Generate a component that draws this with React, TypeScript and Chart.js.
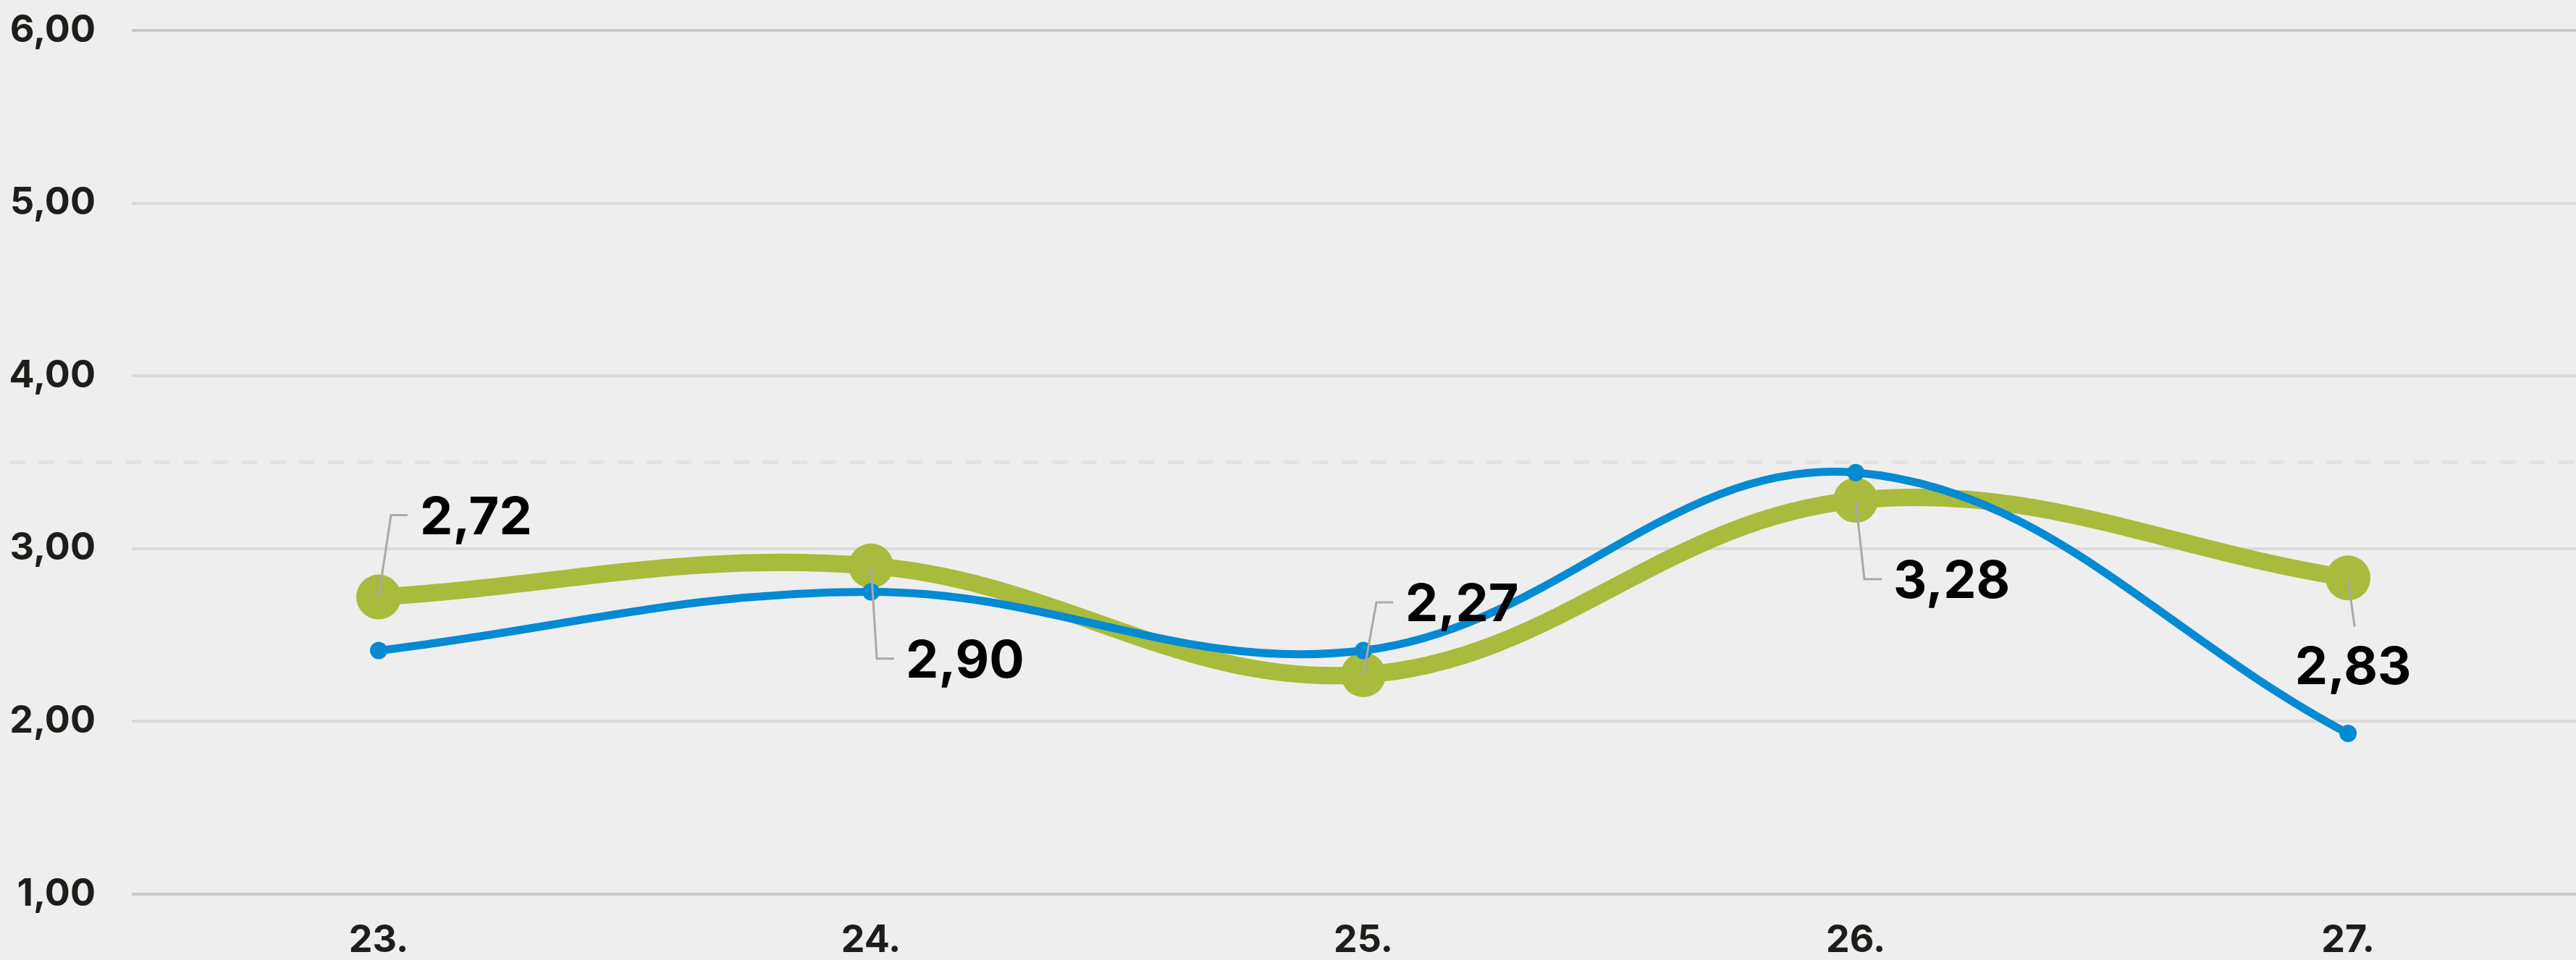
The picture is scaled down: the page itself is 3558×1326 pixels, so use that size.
import React, { useEffect, useRef } from "react";
import { Chart, registerables } from "chart.js";

Chart.register(...registerables);

// ---- data ----
const categories = ["23.", "24.", "25.", "26.", "27."];
const greenValues = [2.72, 2.9, 2.27, 3.28, 2.83];
const blueValues = [2.41, 2.75, 2.41, 3.44, 1.93];
const yTickValues = [1, 2, 3, 4, 5, 6];
const referenceValue = 3.5;

// ---- label layout (pixel offsets relative to each green point) ----
const LABEL_LAYOUT = [
  { tx: 57, ty: -113, ex: 17, ey: -113, hx: 40, align: "left" },
  { tx: 48, ty: 128, ex: 8, ey: 128, hx: 32, align: "left" },
  { tx: 58, ty: -100, ex: 18, ey: -100, hx: 41, align: "left" },
  { tx: 52, ty: 109, ex: 12, ey: 109, hx: 36, align: "left" },
  { tx: 7, ty: 121, ex: 9, ey: 67, hx: null, align: "center" },
];

const GREEN = "#a8bb3c";
const BLUE = "#028ad2";
const FONT = "Inter";
// canvas is a bit wider than the window: Chart.js reserves ~31px on the right
const CANVAS_W = 3589;
const CANVAS_H = 1326;

const fmt = (v: number) => v.toFixed(2).replace(".", ",");

const refLinePlugin = {
  id: "refLine",
  beforeDatasetsDraw(chart: any) {
    const y = chart.scales.y.getPixelForValue(referenceValue);
    const ctx = chart.ctx;
    ctx.save();
    ctx.strokeStyle = "#e3e3e3";
    ctx.lineWidth = 5;
    ctx.setLineDash([22, 18]);
    ctx.beginPath();
    ctx.moveTo(13, y);
    ctx.lineTo(chart.width, y);
    ctx.stroke();
    ctx.restore();
  },
};

const labelPlugin = {
  id: "greenLabels",
  afterDatasetsDraw(chart: any) {
    const ctx = chart.ctx;
    const meta = chart.getDatasetMeta(1);
    ctx.save();
    meta.data.forEach((pt: any, i: number) => {
      const L = LABEL_LAYOUT[i];
      if (!L) return;
      const { x, y } = pt.getProps(["x", "y"], true);
      ctx.setLineDash([]);
      ctx.strokeStyle = "#a9a9a9";
      ctx.lineWidth = 3;
      ctx.beginPath();
      ctx.moveTo(x, y);
      ctx.lineTo(x + L.ex, y + L.ey);
      if (L.hx != null) ctx.lineTo(x + L.hx, y + L.ey);
      ctx.stroke();
      ctx.font = `700 72px ${FONT}`;
      ctx.fillStyle = "#000000";
      ctx.textAlign = L.align as CanvasTextAlign;
      ctx.textBaseline = "alphabetic";
      ctx.fillText(fmt(greenValues[i]), x + L.tx, y + L.ty + 26);
    });
    ctx.restore();
  },
};

export default function App() {
  const ref = useRef<HTMLCanvasElement | null>(null);

  useEffect(() => {
    if (!ref.current) return;
    const chart = new Chart(ref.current, {
      type: "line",
      data: {
        datasets: [
          {
            label: "blue",
            data: blueValues.map((v, i) => ({ x: i, y: v })),
            borderColor: BLUE,
            backgroundColor: BLUE,
            borderWidth: 11,
            pointRadius: 12,
            pointHoverRadius: 12,
            pointBorderWidth: 0,
            pointBackgroundColor: BLUE,
            tension: 0.38,
            fill: false,
            clip: false as any,
          },
          {
            label: "green",
            data: greenValues.map((v, i) => ({ x: i, y: v })),
            borderColor: GREEN,
            backgroundColor: GREEN,
            borderWidth: 24,
            pointRadius: 31,
            pointHoverRadius: 31,
            pointBorderWidth: 0,
            pointBackgroundColor: GREEN,
            tension: 0.38,
            fill: false,
            clip: false as any,
          },
        ],
      },
      options: {
        animation: false,
        responsive: false,
        events: [],
        layout: { padding: { top: 42, left: 0, right: 0, bottom: 0 } },
        plugins: {
          legend: { display: false },
          tooltip: { enabled: false },
        },
        scales: {
          x: {
            type: "linear",
            min: -0.5015,
            max: 4.463,
            afterBuildTicks: (s: any) => {
              s.ticks = categories.map((_, i) => ({ value: i }));
            },
            ticks: {
              callback: (v: any) => categories[v] ?? "",
              font: { family: FONT, size: 52, weight: "700" },
              color: "#1d1d1b",
              padding: 33,
              maxRotation: 0,
              autoSkip: false,
            },
            grid: { display: false, drawTicks: false },
            border: { display: false },
            afterFit: (s: any) => {
              s.height = 91;
              s.paddingLeft = 0;
              s.paddingRight = 0;
            },
          },
          y: {
            min: 1,
            max: 6,
            afterBuildTicks: (s: any) => {
              s.ticks = yTickValues.map((v) => ({ value: v }));
            },
            ticks: {
              callback: (v: any) => fmt(Number(v)),
              font: { family: FONT, size: 52, weight: "700" },
              color: "#1d1d1b",
              padding: 50,
            },
            grid: {
              color: (c: any) =>
                c.tick && (c.tick.value === 6 || c.tick.value === 1) ? "#c9c9c9" : "#dadada",
              lineWidth: 4,
              drawTicks: false,
            },
            border: { display: false },
            afterFit: (s: any) => {
              s.width = 182;
              s.paddingTop = 0;
              s.paddingBottom = 0;
            },
          },
        },
      },
      plugins: [refLinePlugin, labelPlugin],
    } as any);
    return () => chart.destroy();
  }, []);

  return (
    <div
      style={{
        position: "fixed",
        left: 0,
        top: 0,
        width: CANVAS_W,
        height: CANVAS_H,
        background: "#eeeeee",
      }}
    >
      <canvas ref={ref} width={CANVAS_W} height={CANVAS_H} style={{ display: "block" }} />
    </div>
  );
}
